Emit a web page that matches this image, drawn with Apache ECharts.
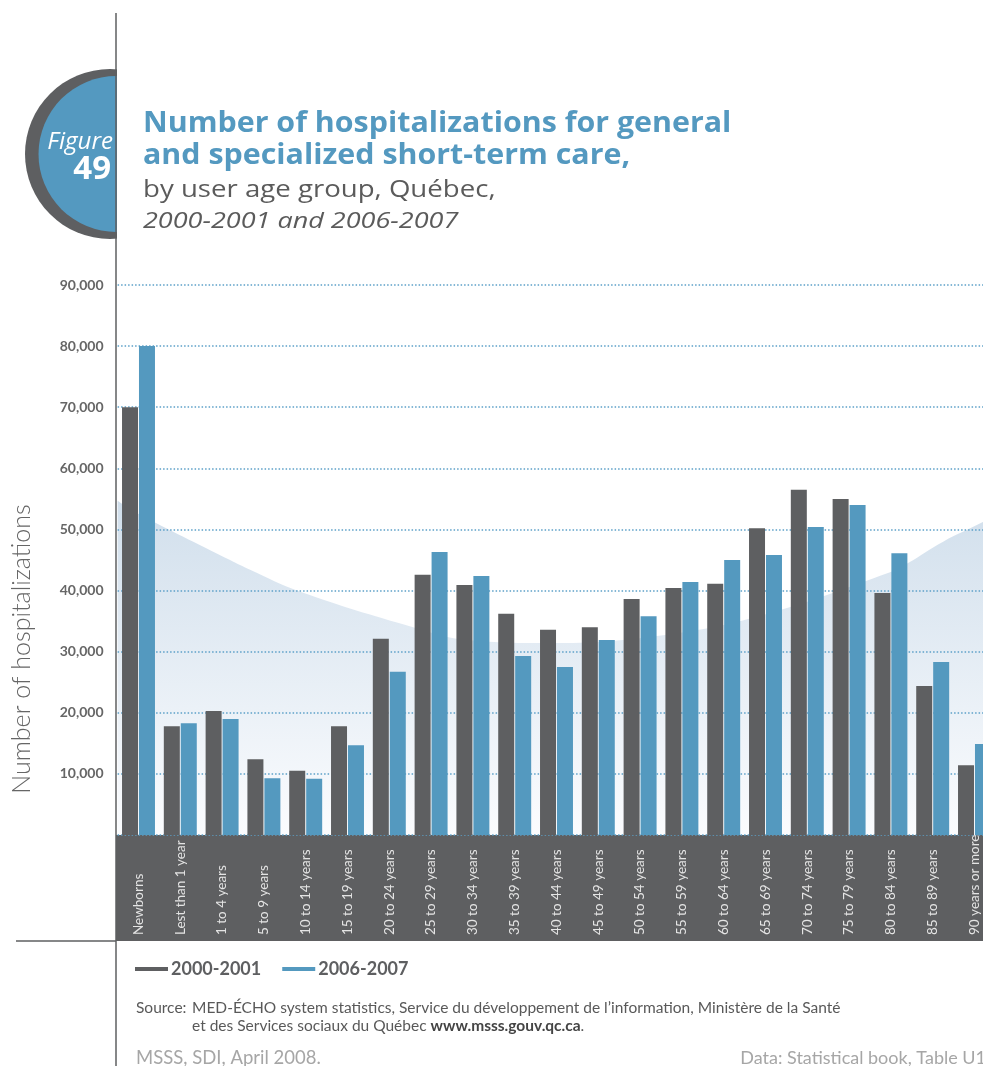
<!DOCTYPE html>
<html>
<head>
<meta charset="utf-8">
<script src="https://cdn.jsdelivr.net/npm/echarts@6/dist/echarts.min.js"></script>
<style>
html,body{margin:0;padding:0;background:#fff;overflow:hidden;}
#chart{width:983px;height:1066px;}
</style>
</head>
<body>
<div id="chart"></div>
<script>
// ---- data ----
var categories = ["Newborns","Lest than 1 year","1 to 4 years","5 to 9 years","10 to 14 years","15 to 19 years","20 to 24 years","25 to 29 years","30 to 34 years","35 to 39 years","40 to 44 years","45 to 49 years","50 to 54 years","55 to 59 years","60 to 64 years","65 to 69 years","70 to 74 years","75 to 79 years","80 to 84 years","85 to 89 years","90 years or more"];
var series2000 = [70000,17800,20300,12400,10500,17800,32100,42600,40900,36200,33600,34000,38600,40400,41100,50200,56500,55000,39600,24400,11400];
var series2006 = [80000,18300,19000,9300,9200,14700,26700,46300,42400,29300,27500,31900,35800,41400,45000,45800,50400,54000,46100,28300,14900];
var seriesNames = ["2000-2001","2006-2007"];
// decorative background swell (x in category units, y in hospitalizations)
var bgCurveX = [0,0.46,2.69,3.17,4.37,7.07,8.36,10.34,13.05,15.44,18.48,18.91,19.75,20.7,21];
var bgCurveY = [54700,52700,45000,43400,39800,34000,31900,31400,32700,36000,43000,44500,48000,51200,52500];
var yMin = 0, yMax = 90000, yStep = 10000;

var titleLines = ["Number of hospitalizations for general","and specialized short-term care,"];
var subtitle = "by user age group, Québec,";
var period = "2000-2001 and 2006-2007";
var yAxisName = "Number of hospitalizations";

var DARK = '#5e5f61', BLUE = '#5499bf';

var chart = echarts.init(document.getElementById('chart'), null, {renderer:'canvas'});

var bgData = bgCurveX.map(function(x,i){return [x,bgCurveY[i]];});

var option = {
  animation:false,
  backgroundColor:'#ffffff',
  color:[DARK,BLUE],
  grid:{left:117.6, top:285, width:877.8, height:550, containLabel:false, outerBoundsMode:'none'},
  legend:{
    left:135, top:960, padding:0, icon:'rect', itemWidth:33, itemHeight:4, itemGap:21,
    data:seriesNames,
    textStyle:{fontFamily:'Lato', fontWeight:'bold', fontSize:18, color:DARK, padding:[0,0,0,-2]}
  },
  xAxis:[{
    type:'category', data:categories, boundaryGap:true,
    axisLine:{show:false}, axisTick:{show:false}, splitLine:{show:false},
    axisLabel:{rotate:90, interval:0, margin:100, align:'left', verticalAlign:'middle',
      color:'#e4e4e4', fontFamily:'Lato', fontSize:13.5}
  },{
    type:'value', min:0, max:21, show:false
  }],
  yAxis:{
    type:'value', min:yMin, max:yMax, interval:yStep,
    axisLine:{show:false}, axisTick:{show:false},
    axisLabel:{margin:14, color:'#666666', fontFamily:'Lato', fontWeight:'bold', fontSize:14,
      formatter:function(v){return v===0?'':v.toLocaleString('en-US');}},
    splitLine:{show:true, lineStyle:{color:'#5ca0c8', width:1.5, type:[1.5,2]}}
  },
  series:[
    {type:'line', xAxisIndex:1, data:bgData, smooth:0.4, showSymbol:false, silent:true, z:-1,
     lineStyle:{width:0}, legendHoverLink:false,
     areaStyle:{opacity:1, color:new echarts.graphic.LinearGradient(0,0,0,1,[{offset:0,color:'#d1dfec'},{offset:1,color:'#fbfcfe'}])}},
    {name:seriesNames[0], type:'bar', data:series2000, barWidth:16, barGap:'6%', itemStyle:{color:DARK}},
    {name:seriesNames[1], type:'bar', data:series2006, barWidth:16, itemStyle:{color:BLUE}}
  ],
  graphic:[
    {type:'rect', shape:{x:116, y:835, width:870, height:106}, style:{fill:DARK}, z:-5, silent:true},
    {type:'circle', shape:{cx:110, cy:154, r:85}, style:{fill:DARK}, z:10},
    {type:'circle', shape:{cx:116.5, cy:154, r:78}, style:{fill:'#5499c0'}, z:11},
    {type:'rect', shape:{x:117, y:60, width:90, height:200}, style:{fill:'#ffffff'}, z:12},
    {type:'line', shape:{x1:116, y1:13, x2:116, y2:1066}, style:{stroke:DARK, lineWidth:1.5}, z:20},
    {type:'line', shape:{x1:16, y1:941, x2:116, y2:941}, style:{stroke:DARK, lineWidth:1.5}, z:20},
    {type:'text', x:22, y:649, rotation:Math.PI/2, style:{text:yAxisName, fill:'#666666', font:'300 25px Lato', align:'center', verticalAlign:'middle'}, z:21},
    {type:'text', x:113, y:142, scaleX:1.05, style:{text:'Figure', fill:'#ffffff', font:'italic 23px "Open Sans"', align:'right', verticalAlign:'middle'}, z:21},
    {type:'text', x:111, y:170, style:{text:'49', fill:'#ffffff', font:'bold 33px "Open Sans"', align:'right', verticalAlign:'middle'}, z:21},
    {type:'text', x:143, y:124, scaleX:1.085, style:{text:titleLines[0], fill:'#5499c0', font:'bold 28px "Open Sans"', verticalAlign:'middle'}, z:21},
    {type:'text', x:143, y:156, scaleX:1.085, style:{text:titleLines[1], fill:'#5499c0', font:'bold 28px "Open Sans"', verticalAlign:'middle'}, z:21},
    {type:'text', x:143, y:190, scaleX:1.2, style:{text:subtitle, fill:'#5b5b5b', font:'23px "Open Sans"', verticalAlign:'middle'}, z:21},
    {type:'text', x:143, y:222, scaleX:1.2, style:{text:period, fill:'#5b5b5b', font:'italic 22.5px "Open Sans"', verticalAlign:'middle'}, z:21},
    {type:'text', x:136, y:1008, style:{text:'Source:', fill:'#595959', font:'15.5px Lato', verticalAlign:'middle'}, z:21},
    {type:'text', x:192, y:1008, style:{text:'MED-ÉCHO system statistics, Service du développement de l\u2019information, Ministère de la Santé', fill:'#595959', font:'15.5px Lato', verticalAlign:'middle'}, z:21},
    {type:'text', x:192, y:1026, style:{text:'et des Services sociaux du Québec {b|www.msss.gouv.qc.ca}.', fill:'#595959', font:'15.5px Lato', verticalAlign:'middle',
      rich:{b:{fontWeight:'bold', fontFamily:'Lato', fontSize:15.5, fill:'#444444'}}}, z:21},
    {type:'text', x:136, y:1058, style:{text:'MSSS, SDI, April 2008.', fill:'#a6a6a6', font:'18.5px Lato', verticalAlign:'middle'}, z:21},
    {type:'text', x:986, y:1058, style:{text:'Data: Statistical book, Table U1', fill:'#a6a6a6', font:'18px Lato', align:'right', verticalAlign:'middle'}, z:21}
  ]
};
chart.setOption(option);
</script>
</body>
</html>
